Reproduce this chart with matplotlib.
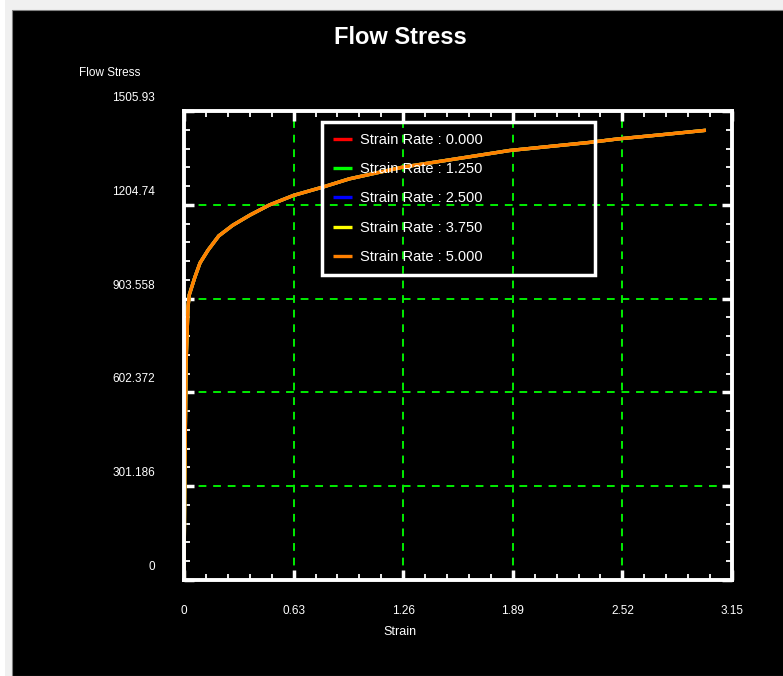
import matplotlib
matplotlib.use("Agg")
import matplotlib.pyplot as plt
from matplotlib.patches import Rectangle
from matplotlib.transforms import blended_transform_factory, offset_copy

plt.rcParams['font.family'] = ['Liberation Sans Narrow', 'Liberation Sans', 'DejaVu Sans']

# data
strain = [0, 0.005, 0.012, 0.023, 0.03, 0.063, 0.092, 0.138, 0.20, 0.28, 0.38,
          0.49, 0.63, 0.80, 0.95, 1.26, 1.63, 1.87, 2.33, 2.49, 2.75, 3.0]
stress = [0, 350, 700, 876, 915, 973, 1018, 1059, 1105, 1139, 1172,
          1204, 1235, 1262, 1288, 1326, 1358, 1379, 1405, 1416, 1430, 1444]
rates = ["0.000", "1.250", "2.500", "3.750", "5.000"]
colors = ["#ff0000", "#00ff00", "#0000ff", "#ffff00", "#ff8000"]

x_ticks = [0, 0.63, 1.26, 1.89, 2.52, 3.15]
x_labels = ["0", "0.63", "1.26", "1.89", "2.52", "3.15"]
y_ticks = [0, 301.186, 602.372, 903.558, 1204.744, 1505.93]
y_labels = ["0", "301.186", "602.372", "903.558", "1204.74", "1505.93"]

fig = plt.figure(figsize=(7.83, 6.76), dpi=100, facecolor="#f0f0f0")
# black panel behind everything
fig.patches.append(Rectangle((12 / 783, 0), 1, (676 - 10) / 676,
                             transform=fig.transFigure, facecolor="black",
                             edgecolor="#808080", lw=0.8, zorder=-5))
fig.patches.append(Rectangle((0, 0), 5 / 783, 1, transform=fig.transFigure,
                             facecolor="white", edgecolor="none", zorder=-5))

ax = fig.add_axes([184 / 783, 96 / 676, 548 / 783, 469 / 676])
ax.set_facecolor("black")

# only the last curve is visible, the others sit underneath it
for r, c in zip(rates, colors):
    ax.plot(strain, stress, color=c, lw=2.4, solid_capstyle="butt",
            label="Strain Rate : " + r)

ax.set_xlim(0, 3.15)
ax.set_ylim(0, 1505.93)

ax.set_xticks(x_ticks)
ax.set_xticklabels(x_labels)
ax.set_yticks(y_ticks)
ax.set_yticklabels([])
ax.set_xticks([i * 0.126 for i in range(26)], minor=True)
ax.set_yticks([i * 1505.93 / 25 for i in range(26)], minor=True)

ax.tick_params(which="both", direction="in", color="white", top=True, right=True,
               labelcolor="white")
ax.tick_params(which="major", length=7, width=2.5, labelsize=8.5, pad=18)
ax.tick_params(which="minor", length=4, width=1.3)

for s in ax.spines.values():
    s.set_color("white")
    s.set_linewidth(2.8)

ax.grid(True, which="major", color="#00ee00", ls=(0, (4, 3.5)), lw=1.4)

# y labels sit a bit above their ticks
tr = blended_transform_factory(ax.transAxes, ax.transData)
tr = offset_copy(tr, fig=fig, x=-29, y=13, units="dots")
for v, lab in zip(y_ticks, y_labels):
    ax.text(0, v, lab, transform=tr, ha="right", va="center", color="white",
            fontsize=8.5)

# see-through legend box, wider than its text
leg = ax.legend(loc="upper left", bbox_to_anchor=(0.252, 0.0, 0.498, 0.976),
                mode="expand", fontsize=10.5, frameon=True, fancybox=False,
                facecolor="none", edgecolor="white", framealpha=1,
                handlelength=1.3, handletextpad=0.6, labelspacing=1.05,
                borderpad=0.72, borderaxespad=0)
leg.get_frame().set_linewidth(2.5)
for t in leg.get_texts():
    t.set_color("white")

fig.text(400 / 783, 1 - 37 / 676, "Flow Stress", color="white", fontsize=17,
         fontweight="bold", ha="center", va="center")
fig.text(110 / 783, 1 - 73 / 676, "Flow Stress", color="white", fontsize=8.5,
         ha="center", va="center")
fig.text(400 / 783, 1 - 632 / 676, "Strain", color="white", fontsize=9,
         ha="center", va="center")

fig.savefig("out.png", dpi=100, facecolor=fig.get_facecolor())
